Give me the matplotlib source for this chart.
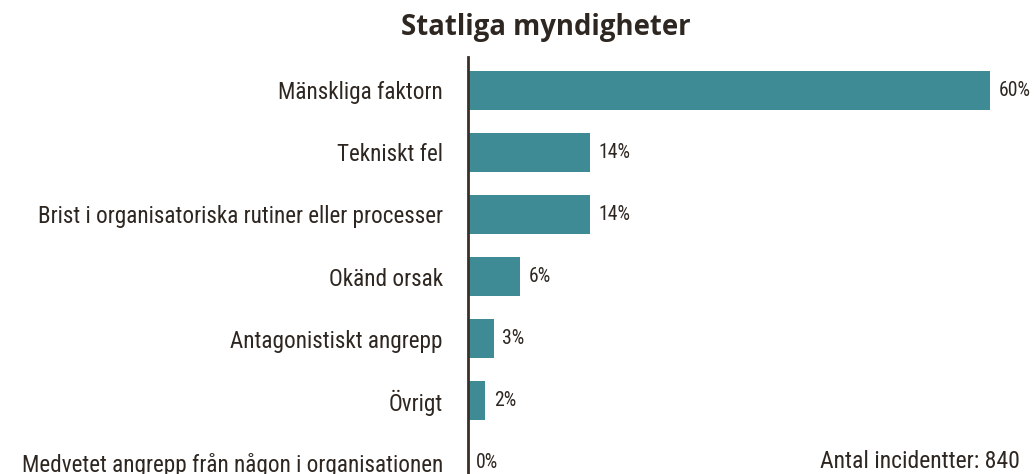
#!/usr/bin/env python3
"""Statliga myndigheter – incident causes, horizontal bar chart."""
import matplotlib
matplotlib.use("Agg")
import matplotlib.pyplot as plt
from matplotlib import font_manager

categories = [
    "Mänskliga faktorn",
    "Tekniskt fel",
    "Brist i organisatoriska rutiner eller processer",
    "Okänd orsak",
    "Antagonistiskt angrepp",
    "Övrigt",
    "Medvetet angrepp från någon i organisationen",
]
values = [60, 14, 14, 6, 3, 2, 0]
title = "Statliga myndigheter"
note = "Antal incidentter: 840"

BAR = "#3e8a95"
INK = "#2e2620"
AXIS = "#3a3028"


def pick_font(cands, fallback):
    names = {f.name for f in font_manager.fontManager.ttflist}
    for c in cands:
        if c in names:
            return c
    return fallback


COND = pick_font(["Roboto Condensed", "Liberation Sans Narrow", "Open Sans Condensed",
                  "Noto Sans Condensed", "DejaVu Sans Condensed"], "Liberation Sans")
BOLD = pick_font(["Open Sans", "Noto Sans"], "DejaVu Sans")

W, H = 1034, 474
fig = plt.figure(figsize=(W / 100, H / 100), dpi=100, facecolor="white")
ax = fig.add_axes([468 / W, 0, 1 - 468 / W, (H - 57) / H])

y = list(range(len(categories)))
ax.barh(y, values, height=0.63, color=BAR)
ax.set_ylim(6.185, -0.54)
ax.set_xlim(0, (W - 468) / 8.7)

# value labels just right of each bar end
for yi, v in zip(y, values):
    ax.annotate(f"{v}%", (v, yi), xytext=(6, 0), textcoords="offset points",
                va="center", ha="left", fontsize=14.2, color=INK, family=COND)

ax.set_yticks(y)
ax.set_yticklabels(categories, fontsize=16.7, color=INK, family=COND)
ax.tick_params(axis="y", length=0, pad=18)
ax.set_xticks([])
for s in ["top", "right", "bottom"]:
    ax.spines[s].set_visible(False)
ax.spines["left"].set_color(AXIS)
ax.spines["left"].set_linewidth(2)

fig.text(546 / W, 1 - 27 / H, title, ha="center", va="center",
         fontsize=19.8, weight="bold", color=INK, family=BOLD)
fig.text(1020 / W, 1 - 462 / H, note, ha="right", va="center",
         fontsize=17, color=INK, family=COND)

fig.savefig("out.png", dpi=100, facecolor="white")
